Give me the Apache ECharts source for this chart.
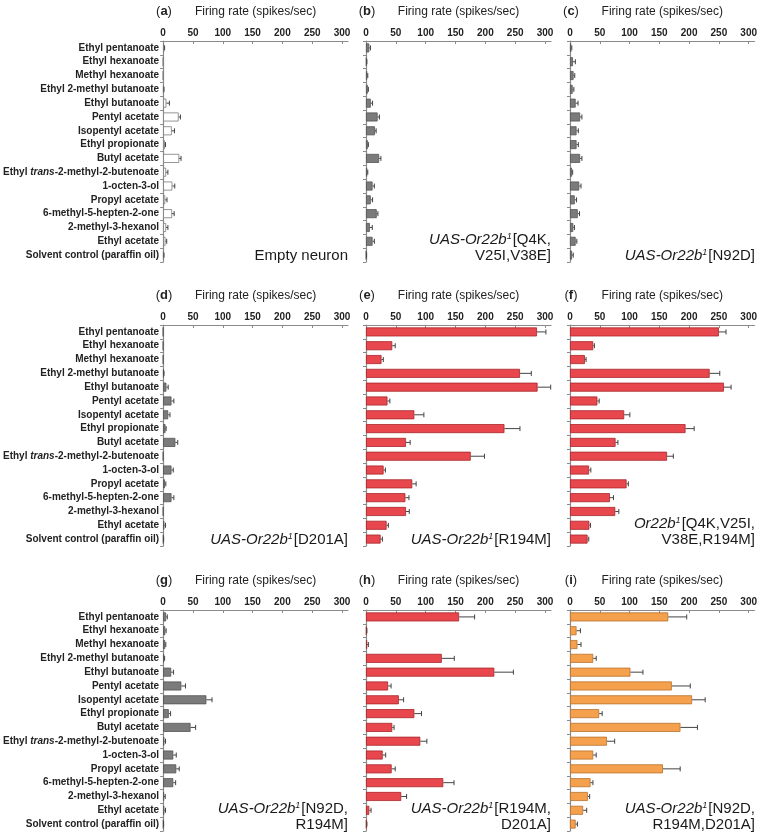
<!DOCTYPE html>
<html>
<head>
<meta charset="utf-8">
<script src="https://cdn.jsdelivr.net/npm/echarts@6/dist/echarts.min.js"></script>
<style>
html,body{margin:0;padding:0;background:#fff;}
#chart{width:760px;height:834px;}
</style>
</head>
<body>
<div id="chart"></div>
<script>
const categories = [
  'Ethyl pentanoate','Ethyl hexanoate','Methyl hexanoate','Ethyl 2-methyl butanoate',
  'Ethyl butanoate','Pentyl acetate','Isopentyl acetate','Ethyl propionate','Butyl acetate',
  'Ethyl trans-2-methyl-2-butenoate','1-octen-3-ol','Propyl acetate','6-methyl-5-hepten-2-one',
  '2-methyl-3-hexanol','Ethyl acetate','Solvent control (paraffin oil)'
];
const xTicks = [0, 50, 100, 150, 200, 250, 300];

const a_vals = [1.5,0,0,1,5.5,26,14.5,3,27,5,15.5,3.5,15,5,4,1];
const a_err  = [1,0,0,0.5,5,3,4.5,1,3,3,4,3,3.5,3,2,0.5];
const b_vals = [5.5,1,2,3,8,19.5,15,3,22,2,11,8,18,6.5,11,0.5];
const b_err  = [2,0.5,1,1,3,3,2,1,3,1,3,3,2,4,3,0.5];
const c_vals = [2,5,6,4.5,9.5,17,11,11,17,3.5,15.5,8,13,5.5,9.5,3.5];
const c_err  = [1,4,2,2,4,3,3,3,3,1,3,3,3,2,2,2];
const d_vals = [0,0,0,1,5.5,14,8.5,4,20.5,0,14,3,14,0,2,0.5];
const d_err  = [0,0,0,0.5,3,4,3,1,4,0,3,1.5,4,0,2,0.3];
const e_vals = [286.5,44,26,258,287.5,36,81,232,67,175.5,29.5,77.5,66,67,34.5,24.5];
const e_err  = [15,5,3,19,22,4,16,26,7,23,3,6.5,6,5.5,3,3];
const f_vals = [250,39,25,234.5,258.5,46,91,194,76.5,163,32,95,67,76,32.5,29.5];
const f_err  = [12,2,2,17,12,3,9.5,14.5,4,10.5,3,3,6,6,2,2];
const g_vals = [5,3.5,3.5,1.5,13.5,30.5,72.5,9.5,46,2,17,22,17,1.5,2,0.5];
const g_err  = [2,1.5,1,1,4,7,9.5,3,8.5,2,5,5,4,2,2,0.3];
const h_vals = [156,1,2,127,215,37,55,81,44,91,28,43,129.5,59,5.5,1];
const h_err  = [26,0.5,2,21,32,5,8,12,3,11,5,6,18,9,3,0.5];
const i_vals = [165,11,12.5,39,101.5,171,205,49,185.5,62,39,156,34.5,30,22,9.5];
const i_err  = [31,6.5,6,5,21,31,22,5,28.5,13,5,29,4,3,6,3];

const panelLetters = ['a','b','c','d','e','f','g','h','i'];
const panelTexts = [
  'Empty neuron',
  '{i|UAS-Or22b}{s|1}[Q4K,\nV25I,V38E]',
  '{i|UAS-Or22b}{s|1}[N92D]',
  '{i|UAS-Or22b}{s|1}[D201A]',
  '{i|UAS-Or22b}{s|1}[R194M]',
  '{i|Or22b}{s|1}[Q4K,V25I,\nV38E,R194M]',
  '{i|UAS-Or22b}{s|1}[N92D,\nR194M]',
  '{i|UAS-Or22b}{s|1}[R194M,\nD201A]',
  '{i|UAS-Or22b}{s|1}[N92D,\nR194M,D201A]'
];
const panelVals = [a_vals,b_vals,c_vals,d_vals,e_vals,f_vals,g_vals,h_vals,i_vals];
const panelErrs = [a_err,b_err,c_err,d_err,e_err,f_err,g_err,h_err,i_err];

const WHITE = {color:'#ffffff', borderColor:'#7a7a7a'};
const GRAY = {color:'#7b7b7b', borderColor:'#555555'};
const RED = {color:'#e8484d', borderColor:'#a8262b'};
const ORANGE = {color:'#f5a04c', borderColor:'#b8722e'};
const panelStyles = [WHITE,GRAY,GRAY,GRAY,RED,RED,GRAY,RED,ORANGE];

const colLeft = [163, 366, 570];
const rowTop = [41, 325, 610];
const GW = 185, GH = 221;

const grids = [], xAxes = [], yAxes = [], series = [], graphics = [];

function errRender(params, api) {
  const v = api.value(0), idx = api.value(1), e = api.value(2);
  if (!(e > 0)) return;
  const p1 = api.coord([v, idx]);
  const p2 = api.coord([v + e, idx]);
  const h = 2.5;
  return {type:'group', children:[
    {type:'line', shape:{x1:p1[0], y1:p1[1], x2:p2[0], y2:p2[1]}, style:{stroke:'#444', lineWidth:1}},
    {type:'line', shape:{x1:p2[0], y1:p2[1]-h, x2:p2[0], y2:p2[1]+h}, style:{stroke:'#444', lineWidth:1}}
  ]};
}

for (let p = 0; p < 9; p++) {
  const col = p % 3, row = Math.floor(p / 3);
  const left = colLeft[col], top = rowTop[row];
  grids.push({left: left, top: top, width: GW, height: GH, containLabel: false});
  xAxes.push({
    gridIndex: p, type: 'value', position: 'top', min: 0, max: 310, interval: 50,
    name: 'Firing rate (spikes/sec)', nameLocation: 'middle', nameGap: 23,
    nameTextStyle: {fontSize: 12, color: '#222', fontFamily: 'Liberation Sans, Arial, sans-serif'},
    axisLine: {show: true, lineStyle: {color: '#8a8a8a', width: 1.2}},
    axisTick: {show: true, inside: true, length: 3, customValues: xTicks, lineStyle: {color: '#8a8a8a'}},
    axisLabel: {show: true, customValues: xTicks, margin: 3, fontSize: 10, fontWeight: 'bold', color: '#222',
      fontFamily: 'Liberation Sans, Arial, sans-serif'},
    splitLine: {show: false}
  });
  yAxes.push({
    gridIndex: p, type: 'category', data: categories, inverse: true,
    axisLine: {show: true, lineStyle: {color: '#8a8a8a', width: 1.2}},
    axisTick: {show: true, length: 3, lineStyle: {color: '#8a8a8a'}},
    axisLabel: {
      show: col === 0, margin: 4, fontSize: 10, fontWeight: 'bold', color: '#222',
      fontFamily: 'Liberation Sans, Arial, sans-serif',
      formatter: function (v) {
        return v.indexOf('trans') >= 0 ? v.replace('trans', '{it|trans}') : v;
      },
      rich: {it: {fontStyle: 'italic', fontWeight: 'bold', fontSize: 10, color: '#222',
        fontFamily: 'Liberation Sans, Arial, sans-serif'}}
    },
    splitLine: {show: false}
  });
  const st = panelStyles[p];
  series.push({
    type: 'bar', xAxisIndex: p, yAxisIndex: p, data: panelVals[p], barWidth: 9,
    itemStyle: {color: st.color, borderColor: st.borderColor, borderWidth: 0.8},
    silent: true, animation: false
  });
  series.push({
    type: 'custom', xAxisIndex: p, yAxisIndex: p, renderItem: errRender,
    data: panelVals[p].map((v, k) => [v, k, panelErrs[p][k]]),
    encode: {x: 0, y: 1}, z: 5, silent: true, animation: false
  });
  graphics.push({
    type: 'text', x: left + 1, y: top - 30,
    style: {
      text: '({b|' + panelLetters[p] + '})', align: 'center', verticalAlign: 'middle',
      fontSize: 13, fill: '#222', fontFamily: 'Liberation Sans, Arial, sans-serif',
      rich: {b: {fontWeight: 'bold', fontSize: 13, fill: '#222', fontFamily: 'Liberation Sans, Arial, sans-serif'}}
    }
  });
  graphics.push({
    type: 'text', x: left + GW, y: top + GH + 2,
    style: {
      text: panelTexts[p], align: 'right', verticalAlign: 'bottom',
      fontSize: 15, lineHeight: 16, fill: '#1a1a1a', fontFamily: 'Liberation Sans, Arial, sans-serif',
      rich: {
        i: {fontStyle: 'italic', fontSize: 15, lineHeight: 16, fill: '#1a1a1a', fontFamily: 'Liberation Sans, Arial, sans-serif'},
        s: {fontStyle: 'italic', fontSize: 9, lineHeight: 16, fill: '#1a1a1a', padding: [0, 1, 7, 0], fontFamily: 'Liberation Sans, Arial, sans-serif'}
      }
    }
  });
}

const chart = echarts.init(document.getElementById('chart'), null, {renderer: 'canvas'});
chart.setOption({
  backgroundColor: '#ffffff',
  animation: false,
  grid: grids, xAxis: xAxes, yAxis: yAxes, series: series, graphic: graphics
});
</script>
</body>
</html>
